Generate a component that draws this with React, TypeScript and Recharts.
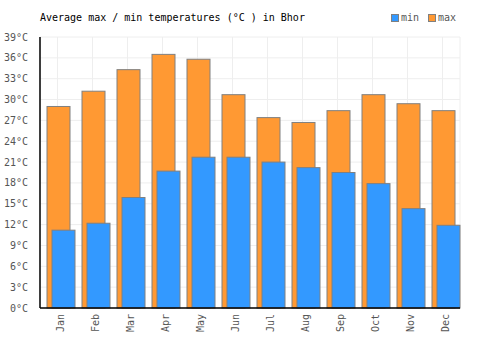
import React from "react";
import { BarChart, Bar, XAxis, YAxis, CartesianGrid } from "recharts";

const months = ["Jan", "Feb", "Mar", "Apr", "May", "Jun", "Jul", "Aug", "Sep", "Oct", "Nov", "Dec"];
const maxTemps = [29, 31.2, 34.3, 36.5, 35.8, 30.7, 27.4, 26.7, 28.4, 30.7, 29.4, 28.4];
const minTemps = [11.2, 12.2, 15.9, 19.7, 21.7, 21.7, 21.0, 20.2, 19.5, 17.9, 14.3, 11.9];
const yTicks = [0, 3, 6, 9, 12, 15, 18, 21, 24, 27, 30, 33, 36, 39];

const data = months.map((m, i) => ({ month: m, max: maxTemps[i], min: minTemps[i] }));

const FONT = "'DejaVu Sans Mono', monospace";

// nudge the bar group right so the min bar meets the category edge
const shiftedBar = (fill: string) => (props: any) => {
  const { x, y, width, height } = props;
  if (!height) return <g />;
  return <rect x={x + 3} y={y} width={width} height={height} fill={fill} stroke="#808080" strokeWidth={1} />;
};

const MonthTick = ({ x, y, payload }: any) => (
  <text
    x={x + 6}
    y={y + 6}
    transform={`rotate(-90, ${x + 6}, ${y + 6})`}
    textAnchor="end"
    fontSize={10}
    fontFamily={FONT}
    fill="#555"
  >
    {payload.value}
  </text>
);

export default function App() {
  return (
    <div style={{ position: "absolute", left: 0, top: 0, width: 500, height: 350, background: "#fff" }}>
      <div style={{ position: "absolute", left: 40, top: 12, fontFamily: FONT, fontSize: 10, color: "#000" }}>
        Average max / min temperatures (°C ) in Bhor
      </div>
      <div style={{ position: "absolute", left: 391, top: 12, fontFamily: FONT, fontSize: 10, color: "#555", display: "flex", alignItems: "center" }}>
        <span style={{ display: "inline-block", width: 6, height: 6, background: "#3399ff", border: "1px solid #808080", marginRight: 2 }} />
        <span style={{ marginRight: 9 }}>min</span>
        <span style={{ display: "inline-block", width: 6, height: 6, background: "#ff9933", border: "1px solid #808080", marginRight: 2 }} />
        <span>max</span>
      </div>
      <BarChart
        width={500}
        height={350}
        data={data}
        margin={{ top: 37, right: 40, bottom: 0, left: 0 }}
        barSize={23}
        barGap={-18}
      >
        <CartesianGrid stroke="#eeeeee" strokeWidth={1} />
        <XAxis
          dataKey="month"
          height={42}
          tickLine={false}
          tickSize={0}
          tickMargin={0}
          interval={0}
          axisLine={{ stroke: "#000", strokeWidth: 1.5 }}
          tick={<MonthTick />}
        />
        <YAxis
          width={40}
          domain={[0, 39]}
          ticks={yTicks}
          interval={0}
          tickLine={false}
          tickMargin={6}
          axisLine={{ stroke: "#000", strokeWidth: 1.5 }}
          tickFormatter={(v) => `${v}°C`}
          tick={{ fontSize: 10, fontFamily: FONT, fill: "#555" }}
        />
        <Bar dataKey="max" fill="#ff9933" shape={shiftedBar("#ff9933")} isAnimationActive={false} />
        <Bar dataKey="min" fill="#3399ff" shape={shiftedBar("#3399ff")} isAnimationActive={false} />
      </BarChart>
    </div>
  );
}
